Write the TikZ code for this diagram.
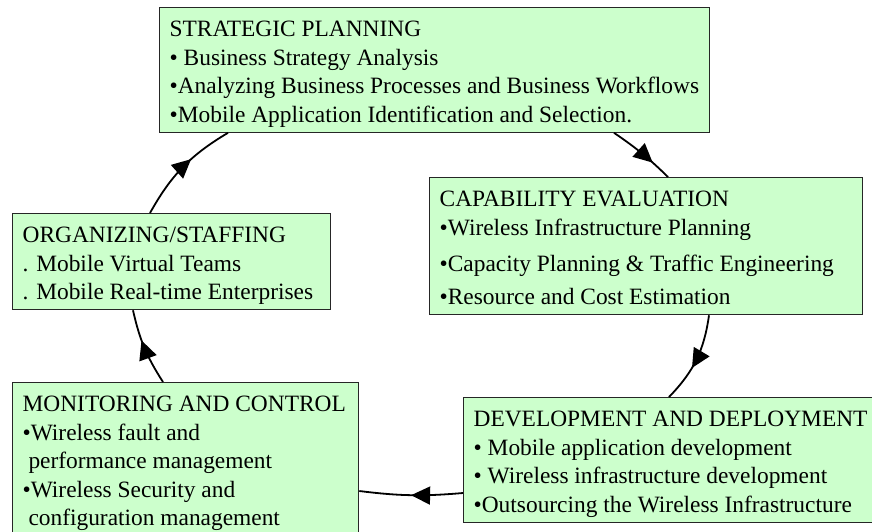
\documentclass[tikz,border=0pt]{standalone}
\usepackage{fontspec}
\setmainfont{Liberation Serif}
\usetikzlibrary{arrows.meta,decorations.markings}

\definecolor{boxgreen}{RGB}{204,255,204}
\newcommand{\topstrut}{\rule{0pt}{29pt}}
\newcommand{\botstrut}{\rule[-10pt]{0pt}{10pt}}

\tikzset{
  box/.style={draw=black!85, line width=1.3pt, fill=boxgreen, anchor=north west,
    align=flush left, inner xsep=10pt, inner ysep=0pt, font=\fontsize{23.4}{28.5}\selectfont},
  flow/.style={line width=1.8pt, postaction={decorate},
    decoration={markings, mark=at position #1 with {\arrow{Triangle[length=19pt,width=18pt]}}}}
}

\begin{document}
\begin{tikzpicture}[x=1pt,y=-1pt]
\clip (0,0) rectangle (872,531);
\path (159,7) node[box] (strat) {\topstrut STRATEGIC PLANNING\\
		• Business Strategy Analysis\\
		•Analyzing Business Processes and Business Workflows\\
		•Mobile Application Identification and Selection.\botstrut}
	(429,177) node[box, text width=413pt] (capab) {\topstrut CAPABILITY EVALUATION\\
		•Wireless Infrastructure Planning\\[8pt]
		•Capacity Planning \& Traffic Engineering\\[4.5pt]
		•Resource and Cost Estimation\botstrut}
	(463,397) node[box, text width=410pt] (dev) {\topstrut DEVELOPMENT AND DEPLOYMENT\\
		• Mobile application development\\
		• Wireless infrastructure development\\
		•Outsourcing the Wireless Infrastructure\botstrut}
	(12,382) node[box, text width=326pt] (mon) {\topstrut MONITORING AND CONTROL\\
		•Wireless fault and\\
		\hspace*{0.25em}performance management\\
		•Wireless Security and\\
		\hspace*{0.25em}configuration management\botstrut}
	(12,213) node[box, text width=298pt] (org) {\topstrut ORGANIZING/STAFFING\\
		. Mobile Virtual Teams\\
		. Mobile Real-time Enterprises\botstrut}
	;

\draw[flow=0.6] ([xshift=138pt]org.north west) to[bend left=15] ([xshift=69pt]strat.south west);
\draw[flow=0.7] ([xshift=455pt]strat.south west) to[bend left=5] ([xshift=239pt]capab.north west);
\draw[flow=0.6] ([xshift=280pt]capab.south west) to[bend left=18] ([xshift=206pt]dev.north west);
\draw[flow=0.5] ([yshift=-96pt]dev.north west) to[bend left=6] ([yshift=-109pt]mon.north east);
\draw[flow=0.6] ([xshift=151pt]mon.north west) to[bend left=10] ([xshift=121pt]org.south west);
\end{tikzpicture}
\end{document}
